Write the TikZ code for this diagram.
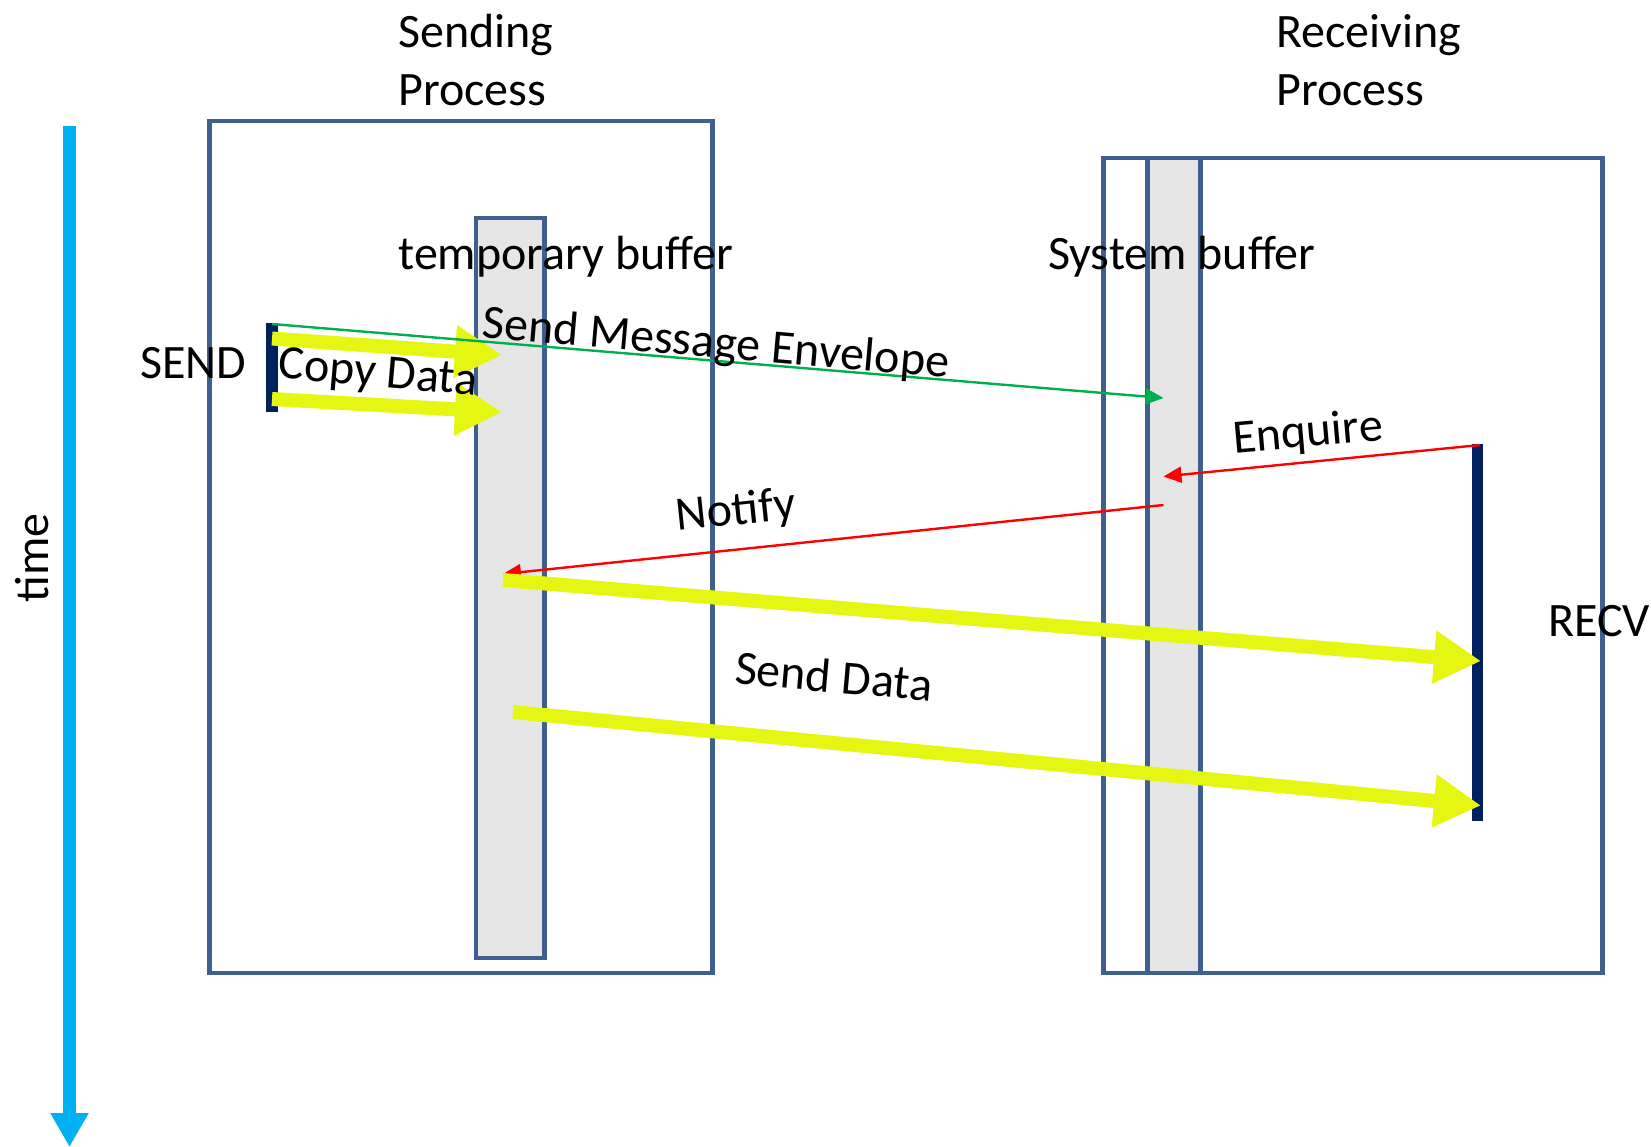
\documentclass[tikz,border=0pt]{standalone}
\usepackage{fontspec}
\setmainfont{Carlito}
\usetikzlibrary{arrows.meta}
\definecolor{boxblue}{HTML}{3F5F8C}
\definecolor{bufgray}{HTML}{E6E6E6}
\definecolor{ylw}{HTML}{E5F612}
\definecolor{navy}{HTML}{002060}
\definecolor{timeblue}{HTML}{00B0F0}
\definecolor{grn}{HTML}{00B050}
\begin{document}
\begin{tikzpicture}[x=0.5pt,y=-0.5pt,
  lbl/.style={font=\fontsize{24}{29}\selectfont, inner sep=0pt, text=black},
  proc/.style={draw=boxblue, line width=2.4pt},
  buf/.style={draw=boxblue, fill=bufgray, line width=2.4pt},
  bar/.style={draw=none, fill=navy},
  bigarrow/.style={draw=ylw, line width=7pt, -{Triangle[width=25pt,length=23.5pt]}},
  thinarrow/.style={line width=1.2pt, -{Triangle[width=8pt,length=9pt]}},
]
\useasboundingbox (0,0) rectangle (1651,1147);
% time axis
\coordinate (tt) at (69.5,126);
\coordinate (tb) at (69.5,1147);
\draw[timeblue, line width=6.25pt, -{Triangle[width=18pt,length=17pt]}] (tt) -- (tb);
\node[lbl, rotate=90] (time) at (31.6,558) {time};
% process boxes and buffers
\draw[proc] (209.5,121) rectangle (712.8,973);
\draw[buf] (476,218) rectangle (544.4,958);
\draw[proc] (1103.5,158) rectangle (1602.5,973);
\draw[buf] (1147.7,158) rectangle (1200.3,973);
% titles
\node[lbl, align=left, anchor=west] (sendproc) at (398,60.5) {Sending\\Process};
\node[lbl, align=left, anchor=west] (recvproc) at (1276,60.5) {Receiving\\Process};
\node[lbl, anchor=west] (tmpbuf) at (398,257) {temporary buffer};
\node[lbl, anchor=west] (sysbuf) at (1047.6,257) {System buffer};
% bars
\draw[bar] (266,323) rectangle (278,412);
\draw[bar] (1471.5,444) rectangle (1483,821);
\node[lbl, anchor=west] (send) at (140,363) {SEND};
\node[lbl, anchor=west] (recv) at (1548,621) {RECV};
% coordinates
\coordinate (c1s) at (272,338.5); \coordinate (c1e) at (502,355);
\coordinate (c2s) at (272,399);   \coordinate (c2e) at (502,412);
\coordinate (gs) at (272,324);    \coordinate (ge) at (1163.5,398);
\coordinate (es) at (1480,445);   \coordinate (ee) at (1163.5,476.5);
\coordinate (ns) at (1163.5,505); \coordinate (ne) at (503,574);
\coordinate (d1s) at (503,580);   \coordinate (d1e) at (1481,661);
\coordinate (d2s) at (513,712);   \coordinate (d2e) at (1481,805.5);
% arrows
\draw[bigarrow] (c1s) -- (c1e);
\draw[bigarrow] (c2s) -- (c2e);
\draw[thinarrow, grn] (gs) -- (ge);
\draw[thinarrow, red] (es) -- (ee);
\draw[thinarrow, red] (ns) -- (ne);
\draw[bigarrow] (d1s) -- (d1e);
\draw[bigarrow] (d2s) -- (d2e);
% labels
\node[lbl, rotate=-5] (copy) at (378,375) {Copy Data};
\node[lbl, rotate=-5] (env) at (716,345) {Send Message Envelope};
\node[lbl, rotate=5] (enq) at (1308,434) {Enquire};
\node[lbl, rotate=6] (notify) at (736,512) {Notify};
\node[lbl, rotate=-5] (sdata) at (834,676) {Send Data};
\end{tikzpicture}
\end{document}
